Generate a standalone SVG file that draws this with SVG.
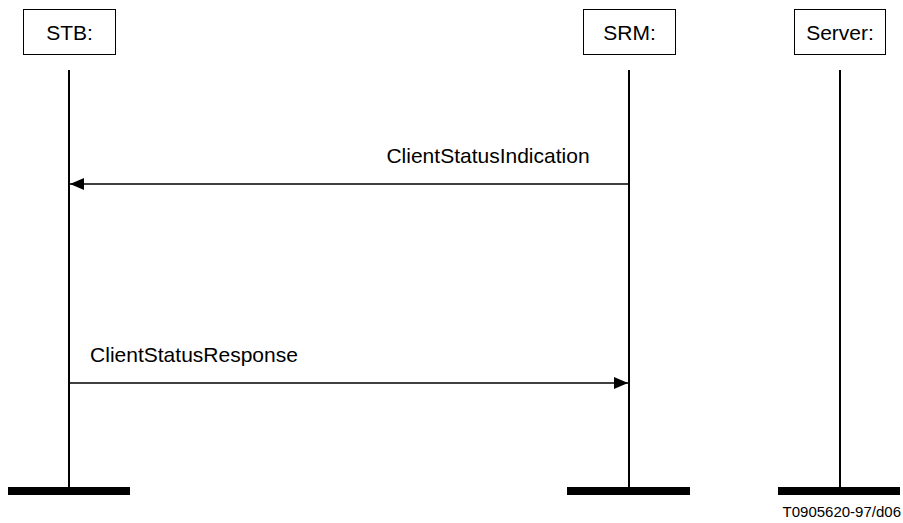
<svg xmlns="http://www.w3.org/2000/svg" width="903" height="523" viewBox="0 0 903 523">
<style>
.box{fill:#fff;stroke:#000;stroke-width:1}
.life{stroke:#000;stroke-width:2}
.bar{fill:#000}
.msg{stroke:#000;stroke-width:1.5;fill:none}
text{font-family:"Liberation Sans",Arial,sans-serif;font-size:21px;fill:#000}
</style>
<defs>
<marker id="ah" markerWidth="14" markerHeight="12" refX="14" refY="6" orient="auto" markerUnits="userSpaceOnUse">
<path d="M0,0 L14,6 L0,12 Z" fill="#000"/>
</marker>
</defs>
<g id="stb">
<rect class="box" x="23.5" y="9.5" width="92" height="45"/>
<text x="69.5" y="40" text-anchor="middle">STB:</text>
<line class="life" x1="69" y1="70" x2="69" y2="488"/>
<rect class="bar" x="8" y="487" width="122" height="8"/>
</g>
<g id="srm">
<rect class="box" x="583.5" y="9.5" width="92" height="45"/>
<text x="629.5" y="40" text-anchor="middle">SRM:</text>
<line class="life" x1="629" y1="70" x2="629" y2="488"/>
<rect class="bar" x="567" y="487" width="123" height="8"/>
</g>
<g id="server">
<rect class="box" x="794.5" y="9.5" width="91" height="45"/>
<text x="840" y="40" text-anchor="middle">Server:</text>
<line class="life" x1="840" y1="70" x2="840" y2="488"/>
<rect class="bar" x="778" y="487" width="122" height="8"/>
</g>
<g id="connectors">
<line class="msg" x1="629" y1="184" x2="70" y2="184" marker-end="url(#ah)"/>
<text x="488" y="163" text-anchor="middle">ClientStatusIndication</text>
<line class="msg" x1="69" y1="383" x2="628" y2="383" marker-end="url(#ah)"/>
<text x="194" y="362" text-anchor="middle">ClientStatusResponse</text>
</g>
<text x="901" y="517" text-anchor="end" style="font-size:15px">T0905620-97/d06</text>
</svg>
